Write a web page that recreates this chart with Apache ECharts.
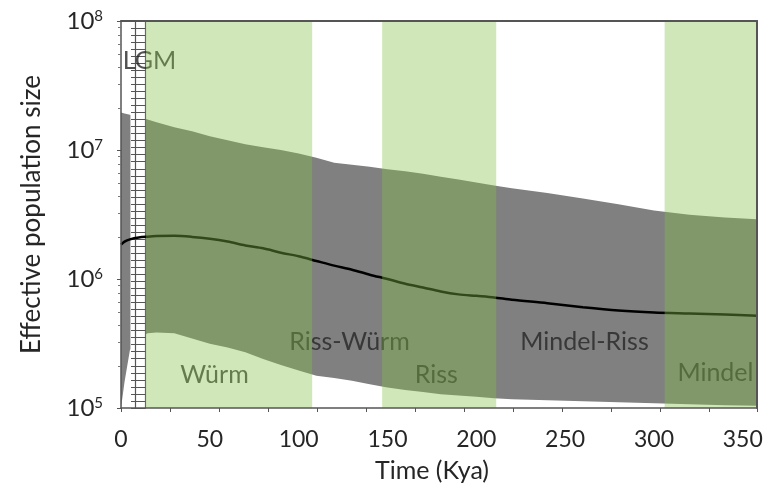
<!DOCTYPE html>
<html>
<head>
<meta charset="utf-8">
<script src="https://cdn.jsdelivr.net/npm/echarts@6/dist/echarts.min.js"></script>
<style>
  html, body { margin: 0; padding: 0; background: #fff; }
  #chart { width: 772px; height: 488px; }
</style>
</head>
<body>
<div id="chart"></div>
<script>
// time before present (kya)
const years = [0, 2, 5, 10, 15, 20, 30, 40, 50, 60, 70, 80, 90, 100, 110, 120, 130, 140, 150,
  160, 170, 180, 190, 200, 210, 220, 240, 260, 280, 300, 320, 340, 358]
// effective population size: median and 95% bounds
const medianNe = [1.85e6, 1.95e6, 2.03e6, 2.1e6, 2.13e6, 2.15e6, 2.16e6, 2.12e6, 2.05e6, 1.95e6,
  1.82e6, 1.73e6, 1.6e6, 1.5e6, 1.38e6, 1.27e6, 1.18e6, 1.08e6, 1.0e6, 9.2e5, 8.6e5, 8.0e5,
  7.6e5, 7.4e5, 7.2e5, 6.9e5, 6.5e5, 6.05e5, 5.7e5, 5.5e5, 5.4e5, 5.3e5, 5.2e5]
const upperNe = [1.95e7, 1.92e7, 1.88e7, 1.8e7, 1.72e7, 1.64e7, 1.5e7, 1.4e7, 1.28e7, 1.19e7,
  1.11e7, 1.05e7, 1.0e7, 9.4e6, 8.7e6, 7.95e6, 7.7e6, 7.4e6, 7.1e6, 6.85e6, 6.55e6, 6.2e6,
  5.9e6, 5.6e6, 5.3e6, 5.05e6, 4.65e6, 4.2e6, 3.8e6, 3.4e6, 3.15e6, 3.0e6, 2.9e6]
const lowerNe = [1.0e5, 1.6e5, 2.8e5, 3.5e5, 3.8e5, 3.85e5, 3.8e5, 3.45e5, 3.15e5, 2.95e5,
  2.7e5, 2.4e5, 2.15e5, 1.95e5, 1.78e5, 1.71e5, 1.63e5, 1.53e5, 1.44e5, 1.38e5, 1.33e5, 1.28e5,
  1.25e5, 1.22e5, 1.19e5, 1.17e5, 1.15e5, 1.13e5, 1.11e5, 1.09e5, 1.07e5, 1.05e5, 1.04e5]

// glacial periods (kya)
const glacialStart = [14, 147, 306]
const glacialEnd = [107.6, 211.2, 358]
const lgmRange = [5.3, 14]

const xTicks = [0, 50, 100, 150, 200, 250, 300, 350]
const yTicks = [1e5, 1e6, 1e7, 1e8]

// period names, anchored in data space
const periodLabels = [
  { name: 'LGM', value: [16, 4.9e7] },
  { name: 'Würm', value: [52.6, 1.8e5] },
  { name: 'Riss-Würm', value: [128.6, 3.25e5] },
  { name: 'Riss', value: [177.5, 1.8e5] },
  { name: 'Mindel-Riss', value: [260.9, 3.25e5] },
  { name: 'Mindel', value: [334.6, 1.87e5] }
]

const FONT = 'Lato'
const TXT = '#262626'
const X_MAX = 358

const pairs = (ys) => years.map((x, i) => [x, ys[i]])

const chart = echarts.init(document.getElementById('chart'))

const option = {
  animation: false,
  textStyle: { fontFamily: FONT },
  grid: { left: 121, right: 15, top: 21, bottom: 80 },
  xAxis: [
    {
      type: 'value',
      min: 0,
      max: X_MAX,
      interval: xTicks[1] - xTicks[0],
      name: 'Time (Kya)',
      nameLocation: 'middle',
      nameGap: 50,
      nameTextStyle: { fontSize: 25, color: TXT, fontFamily: FONT, padding: [0, 14, 0, 0] },
      axisLine: { onZero: false, lineStyle: { color: '#555', width: 1.5 } },
      axisTick: { show: false },
      splitLine: { show: false },
      axisLabel: { fontSize: 23, color: TXT, margin: 20, showMaxLabel: false, fontFamily: FONT },
      z: 10
    },
    {
      // the small ticks under the time axis
      type: 'value',
      position: 'bottom',
      min: 0,
      max: X_MAX,
      interval: 27.6,
      axisLine: { show: false, onZero: false },
      axisTick: { show: true, length: 4, lineStyle: { color: '#555' } },
      axisLabel: { show: false },
      splitLine: { show: false },
      z: 10
    },
    {
      // top frame
      type: 'value',
      position: 'top',
      min: 0,
      max: X_MAX,
      axisLine: { show: true, onZero: false, lineStyle: { color: '#555', width: 2 } },
      axisTick: { show: false },
      axisLabel: { show: false },
      splitLine: { show: false },
      z: 10
    }
  ],
  yAxis: [
    {
      type: 'log',
      logBase: 10,
      min: yTicks[0],
      max: yTicks[yTicks.length - 1],
      name: 'Effective population size',
      nameLocation: 'middle',
      nameGap: 76,
      nameTextStyle: { fontSize: 26, color: TXT, fontFamily: FONT },
      axisLine: { show: true, onZero: false, lineStyle: { color: '#555', width: 1.5 } },
      axisTick: { show: true, length: 4, lineStyle: { color: '#555' } },
      minorTick: { show: true, splitNumber: 8, length: 3, lineStyle: { color: '#777' } },
      splitLine: { show: false },
      axisLabel: {
        margin: 18,
        formatter: (v) => '{a|10}{s|' + Math.round(Math.log10(v)) + '}',
        rich: {
          a: { fontSize: 24, color: TXT, fontFamily: FONT, lineHeight: 24 },
          s: { fontSize: 15, color: TXT, fontFamily: FONT, verticalAlign: 'top', lineHeight: 24 }
        }
      },
      z: 10
    },
    {
      // right frame
      type: 'value',
      position: 'right',
      min: 0,
      max: 1,
      axisLine: { show: true, onZero: false, lineStyle: { color: '#555', width: 2 } },
      axisTick: { show: false },
      axisLabel: { show: false },
      splitLine: { show: false },
      z: 10
    },
    {
      // LGM ladder, left rail
      type: 'value',
      position: 'left',
      offset: -14,
      min: 0,
      max: 55,
      interval: 1,
      axisLine: { show: true, onZero: false, lineStyle: { color: '#555', width: 1.2 } },
      axisTick: { show: true, inside: false, length: 4, lineStyle: { color: '#555' } },
      axisLabel: { show: false },
      splitLine: { show: false },
      z: 5
    },
    {
      // LGM ladder, right rail with rungs
      type: 'value',
      position: 'left',
      offset: -24.5,
      min: 0,
      max: 55,
      interval: 1,
      axisLine: { show: true, onZero: false, lineStyle: { color: '#666', width: 1.2 } },
      axisTick: { show: true, inside: false, length: 11, lineStyle: { color: '#555' } },
      axisLabel: { show: false },
      splitLine: { show: false },
      z: 5
    }
  ],
  series: [
    {
      name: 'upper',
      type: 'line',
      data: pairs(upperNe),
      showSymbol: false,
      silent: true,
      lineStyle: { width: 0 },
      areaStyle: { color: '#808080', opacity: 1, origin: 'start' },
      z: 2
    },
    {
      name: 'lower',
      type: 'line',
      data: pairs(lowerNe),
      showSymbol: false,
      silent: true,
      lineStyle: { width: 0 },
      areaStyle: { color: '#ffffff', opacity: 1, origin: 'start' },
      z: 3
    },
    {
      name: 'lgm',
      type: 'line',
      data: [],
      silent: true,
      markArea: {
        silent: true,
        z: 4,
        itemStyle: { color: '#ffffff' },
        data: [[{ xAxis: lgmRange[0] }, { xAxis: lgmRange[1] }]]
      },
      z: 4
    },
    {
      name: 'median',
      type: 'line',
      data: pairs(medianNe),
      showSymbol: false,
      silent: true,
      smooth: 0.3,
      lineStyle: { color: '#000', width: 2.5 },
      z: 6
    },
    {
      name: 'periods',
      type: 'scatter',
      data: periodLabels,
      symbolSize: 1,
      silent: true,
      itemStyle: { color: 'rgba(0,0,0,0)' },
      label: {
        show: true,
        position: 'inside',
        formatter: '{b}',
        fontSize: 25,
        color: TXT,
        fontFamily: FONT
      },
      z: 7
    },
    {
      name: 'glacials',
      type: 'line',
      data: [],
      silent: true,
      markArea: {
        silent: true,
        z: 8,
        itemStyle: { color: 'rgba(131,195,71,0.38)' },
        data: glacialStart.map((s, i) => [{ xAxis: s }, { xAxis: glacialEnd[i] }])
      },
      z: 8
    }
  ]
}

chart.setOption(option)
</script>
</body>
</html>
